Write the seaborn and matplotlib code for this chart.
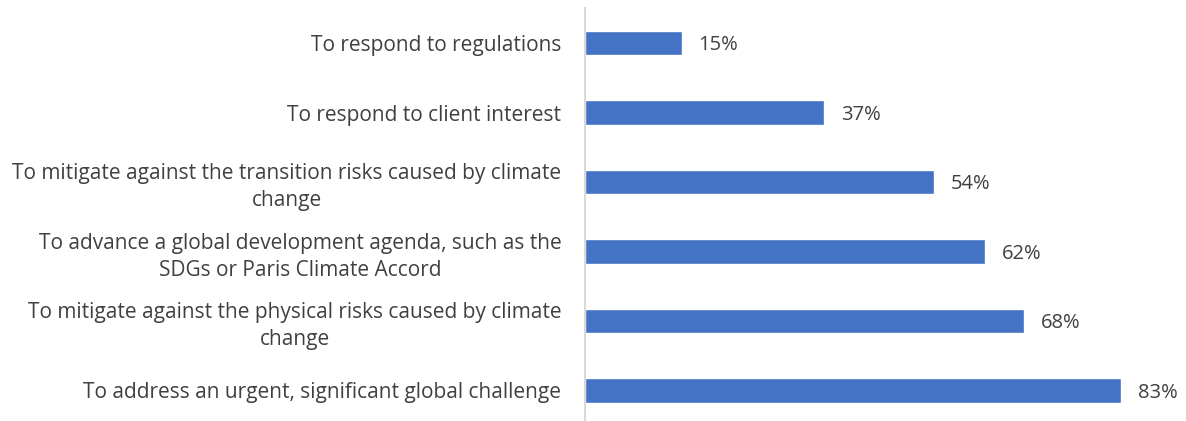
import matplotlib
matplotlib.use("Agg")
import matplotlib.pyplot as plt
import pandas as pd
import seaborn as sns

reasons = [
    "To respond to regulations",
    "To respond to client interest",
    "To mitigate against the transition risks caused by climate\nchange",
    "To advance a global development agenda, such as the\nSDGs or Paris Climate Accord",
    "To mitigate against the physical risks caused by climate\nchange",
    "To address an urgent, significant global challenge",
]
shares = [15, 37, 54, 62, 68, 83]

df = pd.DataFrame({"reason": reasons, "share": shares})

sns.set_style("white")
plt.rcParams["font.family"] = ["Open Sans", "DejaVu Sans"]

fig = plt.figure(figsize=(11.86, 4.21), dpi=100)
ax = fig.add_axes([585 / 1186, 0.0, 1 - 585 / 1186 - 0.02, 1 - 8 / 421])

sns.barplot(data=df, x="share", y="reason", color="#4472C4", saturation=1,
            width=0.35, ax=ax, order=reasons)

for i, v in enumerate(shares):
    ax.text(v + 2.6, i + 0.03, f"{v}%", va="center", ha="left", fontsize=14.5, color="#404040")

ax.set_xlim(0, 89.4)
ax.set_ylim(5.44, -0.504)
ax.set_xlabel("")
ax.set_ylabel("")
ax.set_xticks([])
for s in ["top", "right", "bottom"]:
    ax.spines[s].set_visible(False)
ax.spines["left"].set_color("#D9D9D9")
ax.spines["left"].set_linewidth(1.5)
ax.tick_params(axis="y", length=0, pad=17, labelsize=15, labelcolor="#404040")
for lab in ax.get_yticklabels():
    lab.set_multialignment("center")
    lab.set_linespacing(1.35)

fig.savefig("out.png", dpi=100)
